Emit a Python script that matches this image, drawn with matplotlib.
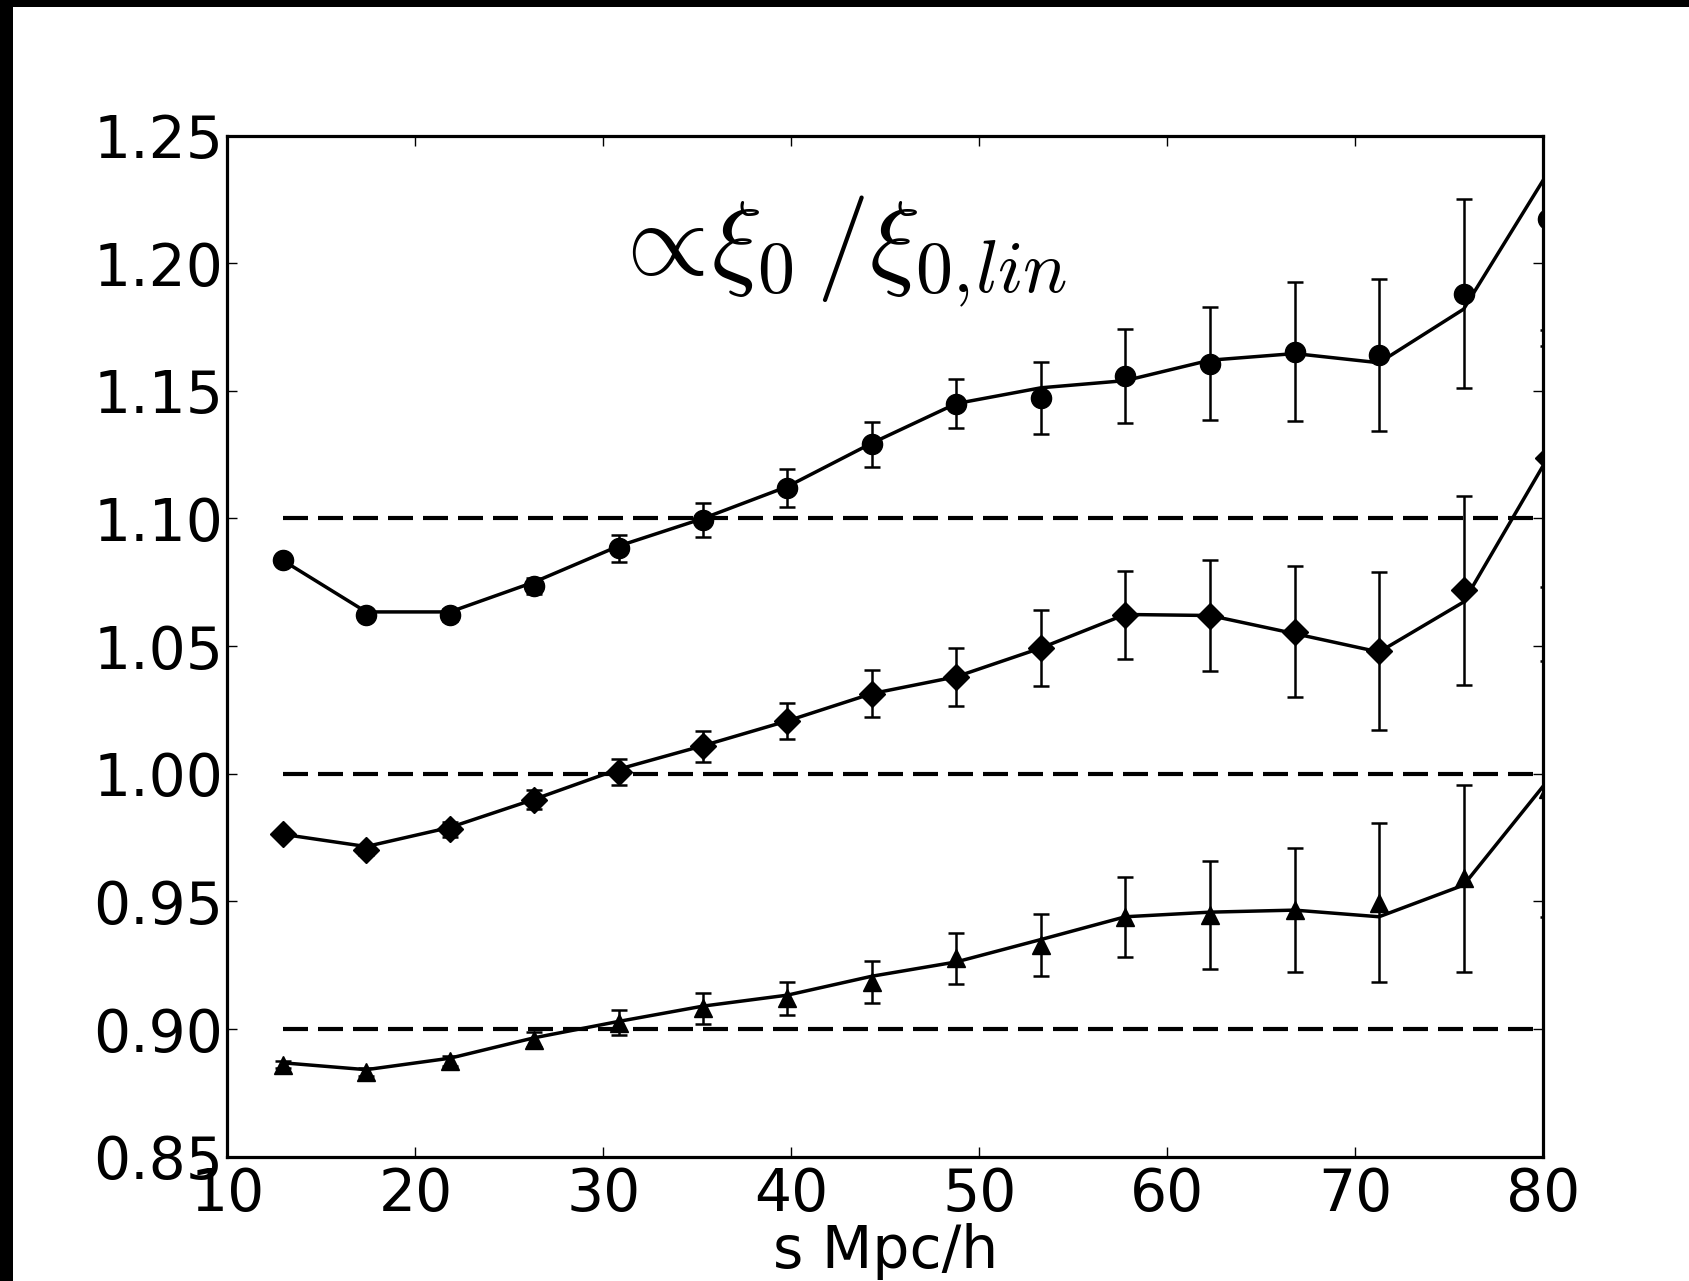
import matplotlib
matplotlib.use("Agg")
import matplotlib.pyplot as plt
from matplotlib.patches import Rectangle

plt.rcParams['mathtext.fontset'] = 'cm'
plt.rcParams['font.family'] = 'DejaVu Sans'

# bin centres in s [Mpc/h]
s = [12.94, 17.38, 21.84, 26.32, 30.81, 35.30, 39.79, 44.28,
     48.77, 53.29, 57.77, 62.27, 66.78, 71.27, 75.77, 80.27]

# measured ratio (offset by +0.1 / 0 / -0.1) with errors, and model curves
ratio_top = [1.0836, 1.0622, 1.0622, 1.0736, 1.0883, 1.0993, 1.1118, 1.1291,
             1.1450, 1.1472, 1.1557, 1.1607, 1.1653, 1.1641, 1.1881, 1.2175]
err_top = [0.0015, 0.002, 0.0025, 0.003, 0.0054, 0.0066, 0.0074, 0.0088,
           0.0097, 0.0142, 0.0184, 0.022, 0.0273, 0.0298, 0.037, 0.050]
model_top = [1.0836, 1.0634, 1.0634, 1.0751, 1.0892, 1.1000, 1.1125, 1.1295,
             1.1450, 1.1512, 1.1540, 1.1620, 1.1646, 1.1610, 1.1820, 1.2357]

ratio_mid = [0.9763, 0.9700, 0.9783, 0.9899, 1.0007, 1.0108, 1.0207, 1.0314,
             1.0380, 1.0493, 1.0622, 1.0620, 1.0556, 1.0481, 1.0718, 1.1235]
err_mid = [0.0015, 0.002, 0.003, 0.0038, 0.005, 0.0061, 0.0070, 0.0093,
           0.0113, 0.015, 0.0172, 0.0218, 0.0257, 0.031, 0.0369, 0.0503]
model_mid = [0.9763, 0.9715, 0.9790, 0.9900, 1.0018, 1.0110, 1.0207, 1.0314,
             1.0380, 1.0493, 1.0624, 1.0620, 1.0549, 1.0477, 1.0673, 1.1241]

ratio_low = [0.8861, 0.8831, 0.8875, 0.8958, 0.9025, 0.9081, 0.9120, 0.9185,
             0.9277, 0.9329, 0.9440, 0.9447, 0.9468, 0.9495, 0.9591, 0.9940]
err_low = [0.0015, 0.0015, 0.002, 0.003, 0.005, 0.0062, 0.0065, 0.0083,
           0.0101, 0.0121, 0.0157, 0.021, 0.0243, 0.0311, 0.0366, 0.050]
model_low = [0.8868, 0.8841, 0.8886, 0.8966, 0.9030, 0.9090, 0.9133, 0.9207,
             0.9263, 0.9351, 0.9440, 0.9458, 0.9466, 0.9440, 0.9564, 0.9976]

ref_levels = [1.10, 1.00, 0.90]
xticks = [10, 20, 30, 40, 50, 60, 70, 80]
yticks = [0.85, 0.90, 0.95, 1.00, 1.05, 1.10, 1.15, 1.20, 1.25]

fig = plt.figure(figsize=(16.9, 12.81), dpi=100, facecolor='black')
fig.patches.append(Rectangle((13 / 1690, 0), 1, 1 - 7 / 1281,
                             transform=fig.transFigure, facecolor='white',
                             edgecolor='none', zorder=-1))
ax = fig.add_axes([0.1346, 0.0970, 0.7785, 0.7972])

for lvl in ref_levels:
    ax.plot(s, [lvl] * len(s), color='k', lw=3, dashes=(6, 2.4))

series = [(ratio_top, err_top, model_top, 'o', 14.5),
          (ratio_mid, err_mid, model_mid, 'D', 13),
          (ratio_low, err_low, model_low, '^', 13)]
for y, e, m, mk, ms in series:
    ax.errorbar(s, y, yerr=e, fmt=mk, color='k', ms=ms, capsize=6,
                elinewidth=1.8, capthick=1.8)
    ax.plot(s, m, color='k', lw=2.5)

ax.text(0.464, 0.863, r'$\propto\!\xi_0\,/\xi_{0,\!lin}$',
        transform=ax.transAxes, fontsize=76, ha='center', va='baseline')

ax.set_xlim(10, 80)
ax.set_ylim(0.85, 1.25)
ax.set_xticks(xticks)
ax.set_yticks(yticks)
ax.set_yticklabels(['%.2f' % v for v in yticks])
ax.tick_params(direction='in', length=7, width=1, top=True, right=True,
               labelsize=42)
ax.tick_params(axis='x', pad=7)
ax.tick_params(axis='y', pad=3)
for sp in ax.spines.values():
    sp.set_linewidth(2.3)
ax.set_xlabel('s Mpc/h', fontsize=42, labelpad=0)

fig.savefig('out.png', dpi=100, facecolor=fig.get_facecolor())
